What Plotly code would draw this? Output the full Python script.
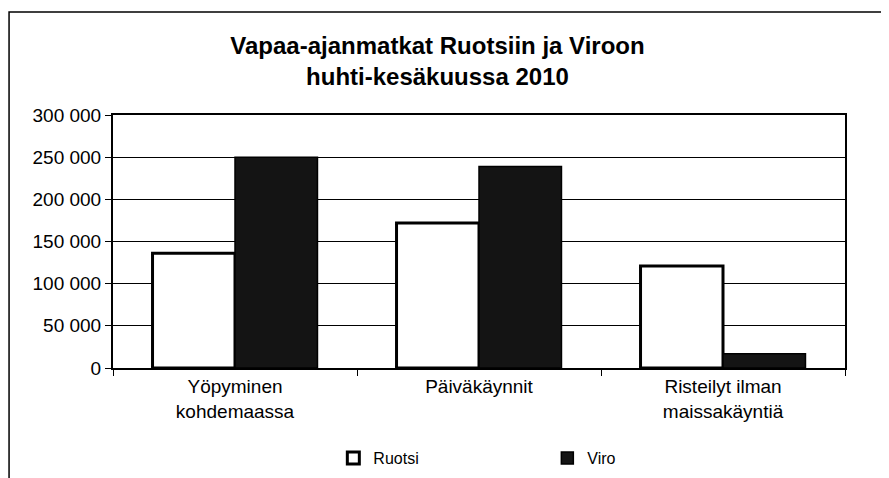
import plotly.graph_objects as go

categories = ["Yöpyminen<br>kohdemaassa", "Päiväkäynnit", "Risteilyt ilman<br>maissakäyntiä"]
ruotsi = [136000, 172000, 121000]
viro = [250000, 239000, 17000]
tick_vals = [0, 50000, 100000, 150000, 200000, 250000, 300000]
tick_text = ["0", "50 000", "100 000", "150 000", "200 000", "250 000", "300 000"]

fig = go.Figure()
fig.add_trace(go.Bar(name="Ruotsi", x=categories, y=ruotsi,
                     marker=dict(color="white", line=dict(color="black", width=3))))
fig.add_trace(go.Bar(name="Viro", x=categories, y=viro,
                     marker=dict(color="#141414", line=dict(color="black", width=1.5))))

fig.update_layout(
    width=881, height=470,
    margin=dict(l=105, r=44, t=107, b=110, autoexpand=False),
    paper_bgcolor="white", plot_bgcolor="white",
    font=dict(family="Liberation Sans, Arial, sans-serif", color="black", size=19),
    title=dict(text="<b>Vapaa-ajanmatkat Ruotsiin ja Viroon<br>huhti-kesäkuussa 2010</b>",
               x=0.4875, xanchor="center", y=0.902, yanchor="middle",
               font=dict(size=24, family="Liberation Sans, Arial, sans-serif")),
    barmode="group", bargap=0.324, bargroupgap=0,
    showlegend=True,
    legend=dict(orientation="h", x=0.301, y=-0.356, xanchor="left", yanchor="middle",
                entrywidth=169, entrywidthmode="pixels",
                font=dict(size=16), itemwidth=30),
    xaxis=dict(showline=True, linecolor="black", linewidth=2, mirror=True,
               ticks="outside", tickson="boundaries", ticklen=6, tickcolor="black",
               tickfont=dict(size=19)),
    yaxis=dict(range=[0, 300000], tickvals=tick_vals, ticktext=tick_text,
               showline=True, linecolor="black", linewidth=2, mirror=True,
               ticks="outside", ticklen=6, tickcolor="black",
               showgrid=True, gridcolor="black", gridwidth=1,
               tickfont=dict(size=19)),
    shapes=[dict(type="rect", xref="paper", yref="paper",
                 x0=-0.1420, x1=1.2, y0=-0.6, y1=1.407,
                 line=dict(color="black", width=1.5), layer="below")],
)

fig.write_html("out.html")
